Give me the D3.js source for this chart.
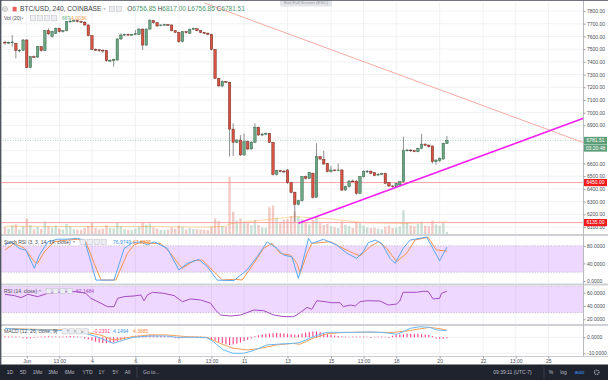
<!DOCTYPE html>
<html><head><meta charset="utf-8">
<script src="https://cdn.jsdelivr.net/npm/d3@7"></script>
<style>
html,body{margin:0;padding:0;background:#fff;}
svg{display:block;font-family:"Liberation Sans",Arial,sans-serif;}
</style></head><body>
<svg id="c" width="608" height="380"></svg>
<script>
// ---------------- DATA ----------------
const opens = [7555,7548,7553,7545,7488,7490,7572,7354,7441,7438,7519,7488,7645,7600,7624,7663,7637,7645,7716,7720,
7724,7718,7713,7690,7606,7498,7495,7492,7490,7409,7409,7414,7580,7611,7616,7614,7616,7616,7658,7532,
7658,7724,7708,7685,7690,7693,7690,7645,7632,7559,7637,7624,7656,7660,7645,7632,7626,7616,7498,7270,
7210,7244,7238,6871,6767,6785,6667,6772,6714,6767,6885,6824,6832,6837,6767,6515,6544,6540,6549,6449,
6373,6279,6307,6496,6483,6523,6334,6654,6633,6601,6536,6549,6544,6549,6391,6418,6462,6462,6365,6496,
6536,6540,6528,6510,6515,6522,6449,6423,6418,6431,6457,6701,6706,6701,6693,6719,6753,6745,6738,6614,
6622,6635,6756.85];
const highs = [7565,7560,7611,7550,7500,7580,7578,7445,7450,7525,7525,7650,7663,7645,7670,7668,7650,7720,7742,7735,
7730,7725,7718,7695,7610,7505,7500,7498,7495,7420,7425,7586,7625,7622,7622,7620,7650,7665,7662,7662,
7737,7730,7712,7695,7700,7698,7695,7650,7637,7642,7645,7662,7670,7665,7648,7636,7630,7620,7500,7275,
7255,7250,7245,6916,6790,6824,6837,6780,6775,6916,6890,6840,6845,6842,6770,6550,6550,6548,6555,6455,
6380,6315,6500,6505,6535,6530,6759,6660,6700,6605,6580,6555,6600,6555,6425,6470,6475,6468,6502,6545,
6548,6545,6532,6525,6528,6528,6452,6430,6448,6462,6811,6715,6712,6708,6725,6832,6758,6750,6742,6635,
6648,6765,6817];
const lows = [7535,7540,7519,7427,7475,7485,7350,7350,7430,7430,7480,7485,7611,7590,7620,7630,7630,7640,7710,7715,
7712,7705,7685,7600,7490,7485,7478,7470,7400,7398,7362,7410,7572,7605,7608,7606,7610,7612,7493,7525,
7650,7700,7675,7680,7685,7682,7640,7625,7550,7552,7622,7620,7650,7640,7625,7618,7610,7490,7265,7205,
7200,7231,6655,6659,6760,6660,6660,6705,6710,6760,6818,6815,6825,6760,6505,6505,6530,6525,6440,6365,
6140,6270,6300,6475,6478,6325,6330,6625,6590,6530,6528,6538,6540,6385,6386,6410,6455,6355,6360,6490,
6525,6515,6500,6505,6510,6438,6415,6410,6412,6425,6450,6695,6690,6688,6688,6712,6738,6725,6600,6590,
6610,6630,6756.85];
const closes = [7548,7553,7556,7488,7492,7572,7354,7441,7438,7519,7488,7645,7620,7640,7663,7637,7645,7716,7720,7724,
7718,7713,7690,7606,7498,7495,7492,7485,7409,7412,7420,7580,7611,7616,7614,7616,7622,7658,7532,7658,
7724,7708,7682,7690,7693,7688,7645,7632,7559,7637,7630,7656,7663,7645,7632,7624,7616,7498,7270,7210,
7244,7238,6871,6767,6785,6667,6772,6714,6767,6885,6824,6832,6837,6767,6515,6544,6540,6536,6449,6373,
6279,6307,6496,6483,6530,6334,6654,6635,6596,6536,6549,6544,6549,6391,6418,6462,6460,6365,6496,6536,
6540,6523,6504,6515,6520,6444,6423,6418,6444,6457,6701,6706,6701,6693,6719,6753,6743,6732,6614,6627,
6641,6759,6781.51];
const volumes = [2400,1800,2900,3200,1500,2600,5200,3000,1600,2500,1700,4200,2600,2100,2800,1800,1500,3400,2600,1600,
1500,1400,2000,2800,3600,2000,1600,1800,3000,2000,1900,3900,2700,1600,1400,1300,1800,2400,4000,3100,
3500,2200,1800,1400,1300,1500,2200,1700,2900,2300,1500,2000,1700,1600,1500,1400,1300,2500,5200,4400,
2600,2300,19100,7400,4500,5200,4100,3600,2900,4600,3000,2200,2100,8900,9500,5400,3600,4800,5000,6000,
7500,5800,5000,3600,3200,4800,6000,3600,3000,3400,2600,2300,2000,4300,3000,2600,2000,3800,3600,2800,
2200,2000,2100,1800,1600,2400,2800,2000,2200,2500,7900,3800,2900,2600,3400,4200,2800,2600,4400,3200,
2700,3900,687];
const volMA = [[0,2600],[20,2500],[40,2500],[56,2300],[61,2600],[62,3400],[70,4500],[80,5800],[90,5000],[100,3700],[110,3500],[122,4003]];

const stochK = [[0,82],[1.7,89],[4,74],[5.8,70],[8.1,29],[9.5,59],[11.8,89],[14.5,95],[17.3,95],[20,97],[21.9,93],[23.3,55],[25.1,2],[30.1,2],[32.9,74],[35.2,87],[37.5,89],[39.3,82],[41.2,89],[44.8,74],[48,25],[50.3,40],[53.5,49],[55.8,33],[58.6,2],[63.2,1],[66.8,25],[69.6,55],[72.4,89],[75.1,74],[76.9,59],[79.2,55],[81,6],[81.5,21],[83.8,97],[84.7,85.6],[87.9,94.7],[91.6,81.8],[94.4,62.9],[97.1,51.5],[98.9,66.6],[100.3,87],[102.2,93],[104,85.6],[106.3,51.5],[107.7,40],[109.9,74],[111.8,93],[116.4,100],[120,46],[122,76.9749]];
const stochD = [[0,70.5],[2.6,85.6],[5.4,74.2],[8.1,43.9],[9,40.2],[10.9,66.7],[13.6,89.4],[17.3,93.2],[20.1,94.7],[22.3,89.4],[24.6,40.2],[26.5,2.3],[30.6,2.3],[33.8,62.9],[35.6,81.8],[37.9,89.4],[40.2,85.6],[43,85.6],[45.7,62.9],[48.9,28.8],[52.2,46.2],[54.5,47.7],[57.2,25],[60,2.3],[63.2,3.8],[65.5,2.3],[68.7,40.2],[71.4,74.2],[73.7,85.6],[76,62.9],[78.8,59.1],[80.6,40.2],[81.5,17.4],[83.4,62.9],[84.7,85.6],[87,87.1],[89.8,89.4],[93.4,74.2],[96.2,62.9],[98,56.8],[100.8,78],[103.1,89.4],[105.4,74.2],[108.1,43.9],[110.9,62.9],[113.2,93.2],[116.8,99.2],[119.1,70.5],[122,67.8895]];
const rsi = [[0,57.5],[2.6,55.5],[4.5,52.5],[6.3,57.5],[9,54],[11.8,59],[14.5,60.5],[17.3,61.5],[20.1,61.5],[22.3,59],[23.7,51.5],[26.5,44],[28.3,38.9],[30.1,38.9],[31.1,51.5],[32.9,54],[35.6,55],[37.5,56.5],[38.4,47.9],[39.3,56.5],[40.7,60.5],[43.9,59],[46.7,55.5],[49,46.4],[51.2,50.5],[54,49],[56.8,44],[58.1,34],[59.5,26.4],[62.3,24.9],[65,26.4],[66.8,29.9],[68.7,33.9],[71.4,32.9],[74.2,26.4],[77,23.9],[79.7,23.9],[81.5,30],[83.4,37.9],[84.7,34.9],[86.1,47.9],[88.4,46.4],[90.2,44.9],[92.5,44.9],[93.4,38.9],[95.3,41.4],[96.7,39.9],[98,46.4],[99.9,47.9],[103.5,47.4],[105.8,41.4],[108.1,42.9],[109,47.4],[109.9,60.5],[113.6,60.5],[115.4,62],[116.8,62],[118.2,50.5],[120,51.5],[120.5,59],[122,62.1484]];
const macdLine = [[0,5.6],[4.1,5.0],[7.8,4.6],[12.4,4.6],[17,4.2],[21.6,2.9],[25.3,0.4],[28.1,-2.1],[29.9,-3.8],[32.7,-1.7],[35.4,0],[40,0.8],[44.6,0.8],[47.4,0],[52,0],[55.7,-0.2],[57.5,-2.7],[60.3,-7.9],[63,-10],[65.8,-10],[68.6,-8.3],[72.3,-4.8],[75.9,-4.2],[79.6,-3.8],[81.4,-3.3],[85.1,0.4],[88.8,3.1],[92.5,3.1],[96.2,3.1],[99.9,3.3],[103.5,3.1],[106.3,2.5],[108.1,1.9],[110,3.5],[111.8,5.6],[114.6,6.6],[117.3,6.2],[119.2,4.6],[122,4.1494]];
const signalLine = [[0,5.6],[7.8,5.0],[17,4.6],[21.6,3.5],[26.2,1.5],[29.9,-1.7],[35.4,0.4],[40,1.5],[44.6,1.5],[50.2,0.4],[55.7,0],[59.4,-3.8],[63,-6.9],[67.1,-7.9],[70.5,-6.9],[75,-4.8],[79.6,-3.8],[81.4,-4.4],[85.1,-0.6],[88.8,2.1],[92.5,2.9],[96.2,3.1],[99.9,3.3],[103.5,3.1],[107.2,3.1],[110.9,3.9],[113.7,5.0],[117.3,6.2],[120.1,5.4],[122,4.3885]];
const macdHist = [0.3,0.2,0.2,0.1,0.0,-0.2,-0.3,-0.2,-0.1,0.0,0.1,0.3,0.3,0.2,0.2,0.1,0.1,0.3,0.4,0.3,0.2,0.0,-0.4,
-1.0,-1.6,-2.2,-2.8,-3.2,-3.4,-3.2,-2.8,-2.2,-1.5,-0.8,-0.3,
0.2,0.6,0.8,0.6,0.8,1.0,1.0,0.8,0.6,0.5,0.3,0.1,-0.2,-0.3,-0.2,0.0,0.1,0.2,0.1,0.0,-0.2,-0.3,
-0.8,-1.6,-2.5,-3.3,-4.0,-4.4,-4.2,-3.6,-2.8,-2.0,-1.2,
-0.4,0.3,0.9,1.4,1.8,2.0,2.2,2.3,2.1,2.0,1.8,1.6,1.2,
1.4,2.0,2.6,3.0,3.2,3.3,3.0,2.4,1.8,1.2,0.7,0.4,
0.2,0.1,0.0,0.1,0.2,0.2,0.1,0.0,-0.1,0.0,0.1,0.1,0.0,-0.1,
0.6,1.0,1.3,1.6,1.8,1.9,1.9,1.8,1.6,1.4,1.0,
0.5,-0.3,-0.6,-0.5,-0.2391];

const timeTickIdx = [6,15,24,36,48,57,66,78,90,99,108,120,132,141,150];
const timeTickLabels = ["Jun","13:00","4","6","8","13:00","11","13","15","13:00","18","20","22","13:00","25"];
const priceTicks = d3.range(6100, 7801, 100);
const stochTicks = [0,40,80], rsiTicks = [20,40,60], macdTicks = [-10,0];
const levelLines = [6450, 6135];
const lastPrice = 6781.51, countdown = "03:20:48";
const resistanceLine = [[55,7864],[159.6,6765]];
const supportLine = [[81,6130],[159.7,6956]];
const header = {title:"BTC/USD, 240, COINBASE", o:"6756.85", h:"6817.00", l:"6756.85", c:"6781.51"};
const volLegend = ["687","4.003K"];
const rangeButtons = ["1D","5D","1Mo","3Mo","6Mo","YTD","1Y","5Y","All"];

// ---------------- LAYOUT ----------------
const svg = d3.select('#c');
const AX = 583.5;
const panes = {main:[2,234], stoch:[236,283.5], rsi:[285.5,324], macd:[326,356]};
const x = d3.scaleLinear().domain([0,122]).range([5.0,446.9]);
const y = d3.scaleLinear().domain([6135,7800]).range([222.6,11]);
const yV = d3.scaleLinear().domain([0,20000]).range([234,174]);
const yS = d3.scaleLinear().domain([0,100]).range([281,237]);
const yR = d3.scaleLinear().domain([30,70]).range([312.6,286]);
const yM = d3.scaleLinear().domain([-10,0]).range([353.3,337.3]);

const UP="#6ba583", DN="#d75442", UPB="#225437", DNB="#5b1a13", WICK="#737375";
const GRID="#f0f1f3";

svg.append('rect').attr('width',608).attr('height',380).attr('fill','#fff');
const defs = svg.append('defs');
Object.entries(panes).forEach(([k,[t,b]])=>{
  defs.append('clipPath').attr('id','clip-'+k).append('rect')
    .attr('x',1.5).attr('y',t).attr('width',AX-1.5).attr('height',b-t);
});
const g = k => svg.append('g').attr('clip-path','url(#clip-'+k+')');

// grid
const gGrid = svg.append('g');
Object.values(panes).forEach(([t,b])=>{
  gGrid.selectAll(null).data(timeTickIdx.filter(d=>x(d)<AX)).join('line')
    .attr('x1',d=>x(d)).attr('x2',d=>x(d)).attr('y1',t).attr('y2',b)
    .attr('stroke',GRID).attr('stroke-width',1);
});
const gMainGrid = g('main');
gMainGrid.selectAll(null).data(priceTicks).join('line')
  .attr('x1',0).attr('x2',AX).attr('y1',d=>y(d)).attr('y2',d=>y(d)).attr('stroke',GRID);

// stoch pane band
const gS = g('stoch');
gS.append('rect').attr('x',0).attr('width',AX).attr('y',yS(80)).attr('height',yS(20)-yS(80)).attr('fill','rgba(153,21,255,0.17)');
gS.selectAll(null).data([80,20]).join('line').attr('x1',0).attr('x2',AX).attr('y1',d=>yS(d)).attr('y2',d=>yS(d))
  .attr('stroke','#a9a2b3').attr('stroke-width',0.6).attr('stroke-dasharray','1.2,1.5');
// rsi band
const gR = g('rsi');
gR.append('rect').attr('x',0).attr('width',AX).attr('y',yR(70)).attr('height',yR(30)-yR(70)).attr('fill','rgba(153,21,255,0.17)');
gR.selectAll(null).data([70,30]).join('line').attr('x1',0).attr('x2',AX).attr('y1',d=>yR(d)).attr('y2',d=>yR(d))
  .attr('stroke','#a9a2b3').attr('stroke-width',0.6).attr('stroke-dasharray','1.2,1.5');
const gM = g('macd');
gM.selectAll(null).data(macdTicks).join('line').attr('x1',0).attr('x2',AX).attr('y1',d=>yM(d)).attr('y2',d=>yM(d)).attr('stroke',GRID);

// volume
const gMain = g('main');
const idx = d3.range(opens.length);
gMain.selectAll('.vol').data(idx).join('rect')
  .attr('x',i=>x(i)-1.2).attr('width',2.4)
  .attr('y',i=>yV(volumes[i])).attr('height',i=>yV(0)-yV(volumes[i]))
  .attr('fill',i=>closes[i]>=opens[i]?'rgba(107,165,131,0.35)':'rgba(215,84,66,0.3)');
gMain.append('path').datum(volMA).attr('fill','none').attr('stroke','rgba(255,152,0,0.45)').attr('stroke-width',0.8)
  .attr('d',d3.line().x(d=>x(d[0])).y(d=>yV(d[1])));

// levels
gMain.selectAll('.lvl').data(levelLines).join('line')
  .attr('x1',0).attr('x2',AX).attr('y1',d=>y(d)).attr('y2',d=>y(d))
  .attr('stroke','#ff9f9f').attr('stroke-width',1);
gMain.append('line').attr('x1',0).attr('x2',AX).attr('y1',y(lastPrice)).attr('y2',y(lastPrice))
  .attr('stroke','#9ccbb0').attr('stroke-width',0.8).attr('stroke-dasharray','1,1.5');

// candles
gMain.selectAll('.wick').data(idx).join('line')
  .attr('x1',i=>x(i)).attr('x2',i=>x(i)).attr('y1',i=>y(highs[i])).attr('y2',i=>y(lows[i]))
  .attr('stroke',WICK).attr('stroke-width',0.8);
gMain.selectAll('.body').data(idx).join('rect')
  .attr('x',i=>x(i)-1.25).attr('width',2.5)
  .attr('y',i=>y(Math.max(opens[i],closes[i])))
  .attr('height',i=>Math.max(0.8,Math.abs(y(opens[i])-y(closes[i]))))
  .attr('fill',i=>closes[i]>=opens[i]?UP:DN)
  .attr('stroke',i=>closes[i]>=opens[i]?UPB:DNB).attr('stroke-width',0.4);

// trend lines
const tl = d3.line().x(d=>x(d[0])).y(d=>y(d[1]));
gMain.append('path').datum(resistanceLine).attr('d',tl).attr('stroke','#f6aba3').attr('stroke-width',1).attr('fill','none');
gMain.append('path').datum(supportLine).attr('d',tl).attr('stroke','#f31ff3').attr('stroke-width',1.6).attr('fill','none');

// indicator lines
const lineS = d3.line().x(d=>x(d[0])).y(d=>yS(d[1]));
gS.append('path').datum(stochD).attr('d',lineS).attr('fill','none').attr('stroke','#f7934f').attr('stroke-width',1);
gS.append('path').datum(stochK).attr('d',lineS).attr('fill','none').attr('stroke','#5aa6f2').attr('stroke-width',1);
gR.append('path').datum(rsi).attr('d',d3.line().x(d=>x(d[0])).y(d=>yR(d[1]))).attr('fill','none').attr('stroke','#a44bc2').attr('stroke-width',1);
gM.selectAll('.hist').data(idx).join('line')
  .attr('x1',i=>x(i)).attr('x2',i=>x(i)).attr('y1',yM(0)).attr('y2',i=>yM(macdHist[i])-(macdHist[i]>=0?0.6:-0.6))
  .attr('stroke','#ff3d84').attr('stroke-width',1.1);
const lineM = d3.line().x(d=>x(d[0])).y(d=>yM(d[1]));
gM.append('path').datum(signalLine).attr('d',lineM).attr('fill','none').attr('stroke','#f7a15a').attr('stroke-width',1);
gM.append('path').datum(macdLine).attr('d',lineM).attr('fill','none').attr('stroke','#6ab8f5').attr('stroke-width',1);

// separators
[[234,236],[283.5,285.5],[324,326]].forEach(([a,b])=>{
  svg.append('rect').attr('x',0).attr('y',a).attr('width',608).attr('height',b-a).attr('fill','#cfd1d6');
});
svg.append('line').attr('x1',AX).attr('x2',AX).attr('y1',0).attr('y2',356.5).attr('stroke','#b7b9bf').attr('stroke-width',1);
svg.append('line').attr('x1',0).attr('x2',608).attr('y1',356.5).attr('y2',356.5).attr('stroke','#c9cbd0').attr('stroke-width',1);

// axes
function styleAxis(sel){
  sel.select('.domain').remove();
  sel.selectAll('line').attr('stroke','#9a9ca3');
  sel.selectAll('text').attr('fill','#4a4c52').style('font-size','5px').style('font-family','"Liberation Sans",Arial,sans-serif');
}
// labels hidden by the last-price / countdown boxes in the reference are left out
const boxY = [y(lastPrice), y(lastPrice)+7.6];
const visiblePriceTicks = priceTicks.filter(p=>boxY.every(b=>Math.abs(y(p)-b)>6.5));
const priceAx = svg.append('g').attr('transform',`translate(${AX},0)`)
  .call(d3.axisRight(y).tickValues(visiblePriceTicks).tickFormat(d=>d.toFixed(2)).tickSize(2).tickPadding(1.5));
styleAxis(priceAx);
const sAx = svg.append('g').attr('transform',`translate(${AX},0)`)
  .call(d3.axisRight(yS).tickValues(stochTicks).tickFormat(d=>d.toFixed(4)).tickSize(2).tickPadding(1.5));
styleAxis(sAx);
const rAx = svg.append('g').attr('transform',`translate(${AX},0)`)
  .call(d3.axisRight(yR).tickValues(rsiTicks).tickFormat(d=>d.toFixed(4)).tickSize(2).tickPadding(1.5));
styleAxis(rAx);
const mAx = svg.append('g').attr('transform',`translate(${AX},0)`)
  .call(d3.axisRight(yM).tickValues(macdTicks).tickFormat(d=>d.toFixed(4)).tickSize(2).tickPadding(1.5));
styleAxis(mAx);
const tAx = svg.append('g').attr('transform','translate(0,356.5)')
  .call(d3.axisBottom(x).tickValues(timeTickIdx).tickFormat((d,i)=>timeTickLabels[i]).tickSize(2).tickPadding(1));
styleAxis(tAx);

// axis boxes
function box(yc, txt, fill){
  svg.append('rect').attr('x',AX+0.5).attr('y',yc-3.6).attr('width',23).attr('height',7.2).attr('fill',fill);
  svg.append('text').attr('x',AX+12).attr('y',yc+1.8).attr('text-anchor','middle').attr('fill','#fff')
    .style('font-size','5px').text(txt);
}
box(boxY[0], lastPrice.toFixed(2), '#5d9f79');
box(boxY[1], countdown, '#5d9f79');
levelLines.forEach(v=>box(y(v), v.toFixed(2), '#f21a1a'));

// header
function btns(x0, yc, n){
  for(let i=0;i<n;i++) svg.append('rect').attr('x',x0+i*7).attr('y',yc-2.6).attr('width',5.2).attr('height',5.2)
    .attr('fill','#eceef2').attr('stroke','#b9bcc4').attr('stroke-width',0.5);
}
function caret(xc,yc){ svg.append('path').attr('d',`M${xc-1.3},${yc-0.6}L${xc+1.3},${yc-0.6}L${xc},${yc+0.8}Z`).attr('fill','#888'); }
svg.append('circle').attr('cx',5).attr('cy',9).attr('r',2.4).attr('fill','none').attr('stroke','#888').attr('stroke-width',0.6);
svg.append('line').attr('x1',3.6).attr('x2',6.4).attr('y1',9).attr('y2',9).attr('stroke','#888').attr('stroke-width',0.6);
svg.append('rect').attr('x',12.6).attr('y',6.8).attr('width',4).attr('height',4.6).attr('fill','#ee5d5d');
svg.append('text').attr('x',20).attr('y',11.3).attr('fill','#3c3e44').style('font-size','6.6px').text(header.title);
caret(104.5,9);
btns(109.5,9,2);
const ohlc = svg.append('text').attr('x',127.3).attr('y',11.3).style('font-size','6.5px');
[["O",header.o],["H",header.h],["L",header.l],["C",header.c]].forEach(([k,v],i)=>{
  ohlc.append('tspan').attr('fill','#4a4c52').text((i? '\u00a0':'')+k);
  ohlc.append('tspan').attr('fill','#4f9a6e').text(v);
});
svg.append('text').attr('x',4).attr('y',20).attr('fill','#4a4c52').style('font-size','5px').text('Vol (20)');
caret(22.5,18.3);
btns(30.5,18.3,4);
svg.append('text').attr('x',62).attr('y',20).attr('fill','#5fae80').style('font-size','5px').text(volLegend[0]);
svg.append('text').attr('x',71).attr('y',20).attr('fill','#f59a45').style('font-size','5px').text(volLegend[1]);

// tooltip
svg.append('rect').attr('x',280).attr('y',-3).attr('width',52).attr('height',9.5).attr('rx',1.5).attr('fill','#e4e5e8');
svg.append('text').attr('x',306).attr('y',4.4).attr('text-anchor','middle').attr('fill','#9a9ca2').style('font-size','4.4px').text('Exit Full Screen (ESC)');

// pane titles
function title(x0,yb,txt,bx,nb,vals){
  svg.append('text').attr('x',x0).attr('y',yb).attr('fill','#4a4c52').style('font-size','5px').text(txt);
  caret(bx-6,yb-1.6); btns(bx,yb-1.6,nb);
  vals.forEach(([vx,t,c])=>svg.append('text').attr('x',vx).attr('y',yb).attr('fill',c).style('font-size','5px').text(t));
}
title(4,243.5,'Stoch RSI (3, 3, 14, 14, close)',80,4,[[113,'76.9749','#3d95ee'],[133,'67.8895','#f48a3c']]);
title(4,292.5,'RSI (14, close)',46,4,[[76,'62.1484','#a44bc2']]);
title(4,333,'MACD (12, 26, close, 9)',62,4,[[93,'-0.2391','#ff3d84'],[113,'4.1494','#3d95ee'],[133,'4.3885','#f48a3c']]);

// bottom toolbar
svg.append('rect').attr('x',0).attr('y',364.5).attr('width',608).attr('height',15.5).attr('fill','#1f232e');
const bx = [10,23.3,37.5,53,69.5,87.5,101.5,115.5,127.5];
rangeButtons.forEach((t,i)=>svg.append('text').attr('x',bx[i]).attr('y',374).attr('text-anchor','middle')
  .attr('fill','#b8bbc4').style('font-size','5px').text(t));
svg.append('line').attr('x1',137).attr('x2',137).attr('y1',367).attr('y2',378).attr('stroke','#3a3f4c');
svg.append('text').attr('x',143).attr('y',374).attr('fill','#b8bbc4').style('font-size','5px').text('Go to...');
svg.append('text').attr('x',512.5).attr('y',374).attr('text-anchor','middle').attr('fill','#b8bbc4').style('font-size','5px').text('09:39:11 (UTC-7)');
svg.append('line').attr('x1',544).attr('x2',544).attr('y1',367).attr('y2',378).attr('stroke','#3a3f4c');
svg.append('text').attr('x',551).attr('y',374).attr('text-anchor','middle').attr('fill','#b8bbc4').style('font-size','5px').text('%');
svg.append('text').attr('x',563.5).attr('y',374).attr('text-anchor','middle').attr('fill','#b8bbc4').style('font-size','5px').text('log');
svg.append('text').attr('x',579.5).attr('y',374).attr('text-anchor','middle').attr('fill','#3d95ee').style('font-size','5px').text('auto');
svg.append('circle').attr('cx',596.7).attr('cy',372.2).attr('r',2.2).attr('fill','none').attr('stroke','#b8bbc4').attr('stroke-width',1.2).attr('stroke-dasharray','1,0.7');

// borders
svg.append('rect').attr('x',0).attr('y',0).attr('width',1.4).attr('height',365).attr('fill','#50545e');
svg.append('rect').attr('x',0).attr('y',0).attr('width',608).attr('height',0.8).attr('fill','#50545e');
</script>
</body></html>
